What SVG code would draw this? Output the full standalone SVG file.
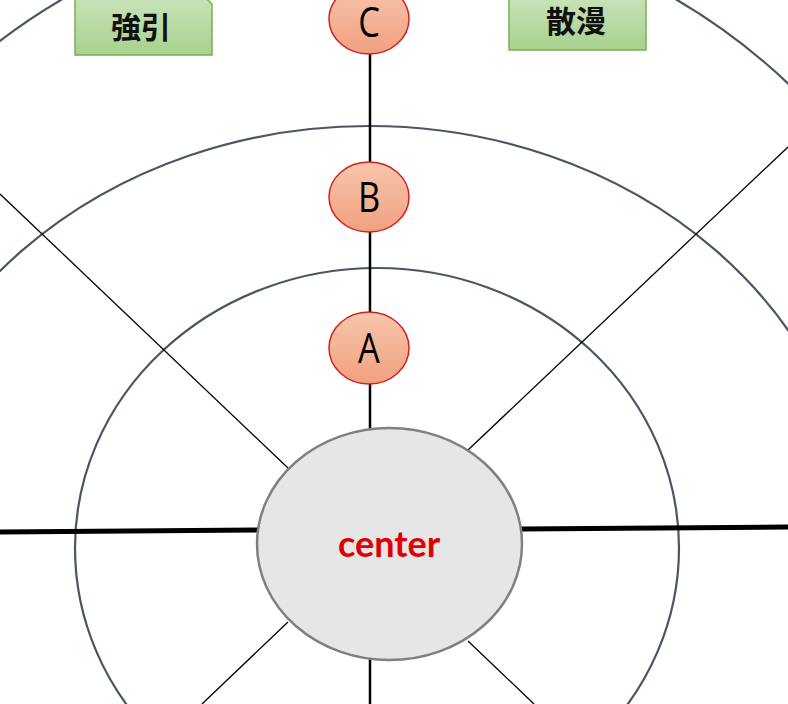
<svg xmlns="http://www.w3.org/2000/svg" width="788" height="704" viewBox="0 0 788 704">
  <style>
    .ring { fill: none; stroke: #4b5563; stroke-width: 2.2; }
    .thin { stroke: #000; stroke-width: 1.3; fill: none; }
    .axis { stroke: #000; stroke-width: 2.5; fill: none; }
    .thick { stroke: #000; stroke-width: 5; fill: none; }
    .node-circle { fill: url(#salmon); stroke: #d02020; stroke-width: 1.5; }
    .letter { font-family: "Open Sans", "Liberation Sans", sans-serif; font-size: 42px; fill: #000; text-anchor: middle; }
    .tag { fill: url(#green); stroke: #78ae58; stroke-width: 1.5; }
    .tag-text { font-family: "Noto Sans CJK JP", "Noto Sans CJK SC", sans-serif; font-weight: bold; font-size: 30px; fill: #111; text-anchor: middle; }
  </style>
  <defs>
    <linearGradient id="salmon" x1="0" y1="0" x2="0" y2="1">
      <stop offset="0" stop-color="#f8c6ad"/>
      <stop offset="1" stop-color="#f0a07f"/>
    </linearGradient>
    <linearGradient id="green" x1="0" y1="0" x2="0" y2="1">
      <stop offset="0" stop-color="#cde5be"/>
      <stop offset="1" stop-color="#a8d18e"/>
    </linearGradient>
  </defs>
  <rect width="788" height="704" fill="#fff"/>

  <g id="rings">
    <ellipse class="ring" cx="377" cy="548" rx="302" ry="280"/>
    <ellipse class="ring" cx="369" cy="550" rx="490" ry="424"/>
    <ellipse class="ring" cx="369" cy="548" rx="618" ry="632"/>
  </g>

  <g id="connectors">
    <line class="thin" x1="0" y1="194" x2="288" y2="468"/>
    <line class="thin" x1="468" y1="450" x2="788" y2="147"/>
    <line class="thin" x1="288" y1="622" x2="202" y2="704"/>
    <line class="thin" x1="468" y1="641" x2="534" y2="704"/>
    <line class="thick" x1="0" y1="532" x2="258" y2="530"/>
    <line class="thick" x1="521" y1="529" x2="788" y2="527"/>
    <line class="axis" x1="370" y1="52" x2="370" y2="430"/>
    <line class="axis" x1="370" y1="659" x2="370" y2="704"/>
  </g>

  <g id="center">
    <ellipse cx="389.5" cy="544" rx="132.5" ry="116" fill="#e6e6e6" stroke="#808080" stroke-width="2.5"/>
    <text x="389" y="557" font-family="Lato, 'Open Sans', sans-serif" font-weight="bold" font-size="36" fill="#e00000" text-anchor="middle">center</text>
  </g>

  <g id="node-a">
    <ellipse class="node-circle" cx="369" cy="348" rx="40" ry="36"/>
    <text class="letter" transform="translate(369,363) scale(0.82,1)">A</text>
  </g>
  <g id="node-b">
    <ellipse class="node-circle" cx="369" cy="197" rx="40" ry="35"/>
    <text class="letter" transform="translate(369,212) scale(0.82,1)">B</text>
  </g>
  <g id="node-c">
    <ellipse class="node-circle" cx="369" cy="19" rx="40" ry="35"/>
    <text class="letter" transform="translate(369,37) scale(0.82,1)">C</text>
  </g>

  <g id="tag-left">
    <path class="tag" d="M75,-10 H198 L212,4 V55 H75 Z"/>
    <text class="tag-text" x="141" y="38">強引</text>
  </g>
  <g id="tag-right">
    <rect class="tag" x="509" y="-10" width="137" height="60"/>
    <text class="tag-text" x="576" y="32">散漫</text>
  </g>
</svg>
